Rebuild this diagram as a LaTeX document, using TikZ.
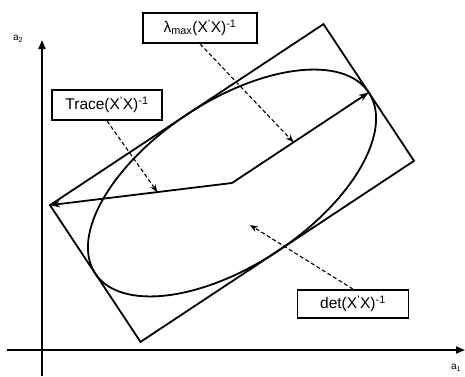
\documentclass[tikz,border=0pt]{standalone}
\usepackage{fontspec}
\setmainfont{Liberation Sans}
\usepackage{tikz}
\usetikzlibrary{positioning, arrows.meta, calc}
\tikzset{
  labelbox/.style={
    draw=black, line width=1.8pt, fill=white,
    font=\fontsize{15.5}{18}\selectfont,
    minimum height=30pt, align=center, inner sep=3pt
  },
  axlabel/.style={font=\fontsize{10}{12}\selectfont, inner sep=1pt},
  axis/.style={-{Triangle[length=9pt, width=7pt]}, line width=1.8pt},
  outline/.style={line width=1.8pt},
  halfaxis/.style={-{Stealth[length=10pt, width=7pt]}, line width=1.8pt},
  pointer/.style={-{Stealth[length=8pt, width=6pt]}, line width=1.1pt,
    dash pattern=on 4pt off 2.5pt}
}

\begin{document}
\begin{tikzpicture}[x=1pt, y=1pt]
  \useasboundingbox (0,0) rectangle (465,376);

  % axes
  \coordinate (xs) at (7,26);
  \coordinate (xe) at (465,26);
  \coordinate (ys) at (42,0);
  \coordinate (ye) at (42,336);
  \draw[axis] (xs) -- (xe);
  \draw[axis] (ys) -- (ye);
  \node[axlabel] (atwo) at (18,337) {a\textsubscript{2}};
  \node[axlabel] (aone) at (456,8) {a\textsubscript{1}};

  % ellipse and its bounding rectangle
  \begin{scope}[shift={(232,193)}, rotate=33.5]
    \coordinate (O) at (0,0);
    \coordinate (M) at (164,0);
    \coordinate (L) at (-164,82);
    \coordinate (T) at (164,82);
    \coordinate (R) at (164,-82);
    \coordinate (B) at (-164,-82);
    \draw[outline] (O) ellipse [x radius=164, y radius=82];
  \end{scope}
  \draw[outline] (L) -- (T) -- (R) -- (B) -- cycle;
  \draw[halfaxis] (O) -- (M);
  \draw[halfaxis] (O) -- (L);

  % criteria
  \node[labelbox, minimum width=114pt] (lam) at (200,348)
    {λ\textsubscript{max}(X\textsuperscript{'}X)\textsuperscript{-1}};
  \node[labelbox, minimum width=110pt] (trace) at (107,271)
    {Trace(X\textsuperscript{'}X)\textsuperscript{-1}};
  \node[labelbox, minimum width=111pt, minimum height=28pt] (det) at (353,72)
    {det(X\textsuperscript{'}X)\textsuperscript{-1}};
  \coordinate (dt) at (250,151);

  \draw[pointer] (lam.south) -- ($(O)!0.45!(M)$);
  \draw[pointer] (trace.south) -- ($(O)!0.41!(L)$);
  \draw[pointer] (det.north) -- (dt);
\end{tikzpicture}
\end{document}
